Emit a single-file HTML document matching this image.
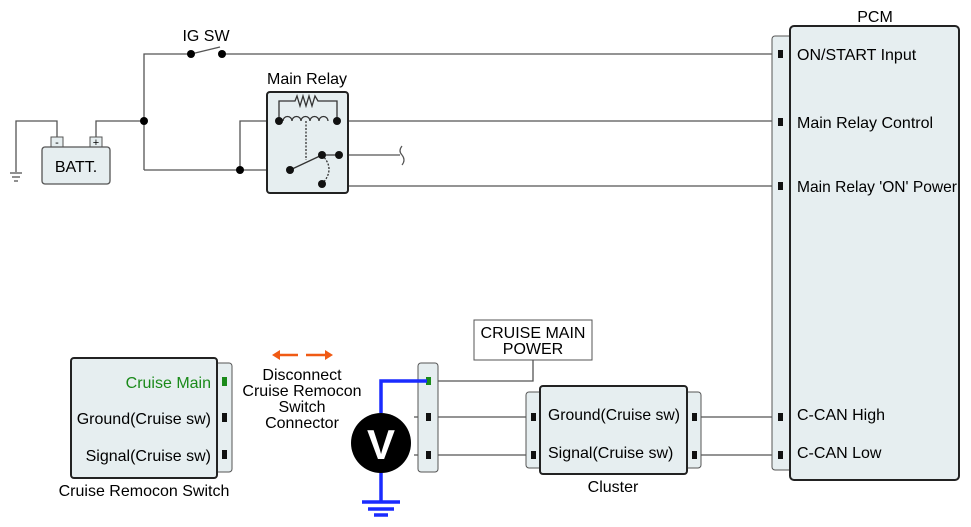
<!DOCTYPE html>
<html><head><meta charset="utf-8"><style>
html,body{margin:0;padding:0;background:#fff;}
svg{display:block;font-family:"Liberation Sans",Arial,sans-serif;}
</style></head><body>
<svg width="971" height="527" viewBox="0 0 971 527" xmlns="http://www.w3.org/2000/svg">
<g stroke="#555" stroke-width="1.3" fill="none">
<polyline points="144,170 144,54 191,54"/>
<line x1="191" y1="54" x2="220" y2="47"/>
<line x1="222" y1="54" x2="772" y2="54"/>
<polyline points="96,137 96,121 144,121"/>
<polyline points="57,137 57,121 16,121 16,172"/>
<line x1="10" y1="173" x2="22" y2="173"/>
<line x1="12" y1="177" x2="20" y2="177"/>
<line x1="14" y1="181" x2="18" y2="181"/>
<line x1="144" y1="170" x2="290" y2="170"/>
<polyline points="240,170 240,121 279,121"/>
<line x1="337" y1="121" x2="772" y2="121"/>
<line x1="339" y1="155" x2="400" y2="155"/>
<polyline points="339,155 339,186 772,186"/>
<line x1="414" y1="417" x2="526" y2="417"/>
<line x1="414" y1="455" x2="526" y2="455"/>
<line x1="701" y1="417" x2="772" y2="417"/>
<line x1="701" y1="455" x2="772" y2="455"/>
<polyline points="430,381 533,381 533,360"/>
</g>
<path d="M402,146 q-4,5 0,9 q4,5 0,10" stroke="#555" fill="none" stroke-width="1.2"/>
<rect x="51" y="137" width="12" height="11" fill="#e6eef0" stroke="#555"/>
<rect x="90" y="137" width="12" height="11" fill="#e6eef0" stroke="#555"/>
<text x="57" y="146" font-size="11" text-anchor="middle">-</text>
<text x="96" y="146" font-size="11" text-anchor="middle">+</text>
<rect x="42" y="147" width="68" height="37" rx="3" fill="#e6eef0" stroke="#555" stroke-width="1.3"/>
<text x="76" y="172" font-size="16" text-anchor="middle">BATT.</text>
<text x="206" y="41" font-size="16" text-anchor="middle">IG SW</text>
<circle cx="191" cy="54" r="4"/><circle cx="222" cy="54" r="4"/>
<circle cx="144" cy="121" r="4"/><circle cx="240" cy="170" r="4"/>
<text x="307" y="84" font-size="16" text-anchor="middle">Main Relay</text>
<rect x="267" y="92" width="81" height="101" rx="3" fill="#e6eef0" stroke="#222" stroke-width="2"/>
<g stroke="#333" stroke-width="1.3" fill="none">
<polyline points="279,121 279,101 295,101 297,96 300,106 303,96 306,106 309,96 312,106 315,96 318,101 337,101 337,121"/>
<path d="M283,121 a4.5,4.5 0 0 1 9,0 a4.5,4.5 0 0 1 9,0 a4.5,4.5 0 0 1 9,0 a4.5,4.5 0 0 1 9,0 a4.5,4.5 0 0 1 9,0"/>
<line x1="306" y1="121" x2="306" y2="160" stroke-dasharray="2,1.5"/>
<line x1="290" y1="170" x2="322" y2="155"/>
<path d="M322,155 q14,14 0,29" stroke-dasharray="2,1.5"/>
<line x1="322" y1="155" x2="339" y2="155"/>
</g>
<g fill="#111">
<circle cx="279" cy="121" r="4"/><circle cx="337" cy="121" r="4"/>
<circle cx="290" cy="170" r="4"/><circle cx="322" cy="155" r="4"/>
<circle cx="339" cy="155" r="4"/><circle cx="322" cy="184" r="4"/>
</g>
<text x="875" y="22" font-size="16" text-anchor="middle">PCM</text>
<rect x="772" y="36" width="20" height="434" rx="3" fill="#e6eef0" stroke="#555"/>
<rect x="790" y="26" width="169" height="454" rx="4" fill="#e6eef0" stroke="#222" stroke-width="2"/>
<g fill="#111">
<rect x="778" y="50" width="5" height="8"/><rect x="778" y="118" width="5" height="8"/>
<rect x="778" y="182" width="5" height="8"/><rect x="778" y="413" width="5" height="8"/>
<rect x="778" y="451" width="5" height="8"/>
</g>
<g font-size="16">
<text x="797" y="60">ON/START Input</text>
<text x="797" y="128">Main Relay Control</text>
<text x="797" y="192" textLength="160" lengthAdjust="spacingAndGlyphs">Main Relay 'ON' Power</text>
<text x="797" y="420">C-CAN High</text>
<text x="797" y="458">C-CAN Low</text>
</g>
<rect x="526" y="392" width="16" height="76" rx="3" fill="#e6eef0" stroke="#555"/>
<rect x="685" y="392" width="16" height="76" rx="3" fill="#e6eef0" stroke="#555"/>
<rect x="540" y="386" width="147" height="88" rx="3" fill="#e6eef0" stroke="#222" stroke-width="2"/>
<g fill="#111">
<rect x="531" y="413" width="5" height="8"/><rect x="531" y="451" width="5" height="8"/>
<rect x="692" y="413" width="5" height="8"/><rect x="692" y="451" width="5" height="8"/>
</g>
<text x="548" y="420" font-size="16" textLength="132" lengthAdjust="spacingAndGlyphs">Ground(Cruise sw)</text>
<text x="548" y="458" font-size="16">Signal(Cruise sw)</text>
<text x="613" y="492" font-size="16" text-anchor="middle">Cluster</text>
<rect x="474" y="320" width="118" height="40" fill="#fff" stroke="#555"/>
<text x="533" y="338" font-size="16" text-anchor="middle">CRUISE MAIN</text>
<text x="533" y="354" font-size="16" text-anchor="middle">POWER</text>
<rect x="418" y="363" width="20" height="109" rx="3" fill="#e6eef0" stroke="#555"/>
<rect x="426" y="377" width="5" height="8" fill="#1a8a1a"/>
<rect x="426" y="413" width="5" height="8" fill="#111"/>
<rect x="426" y="451" width="5" height="8" fill="#111"/>
<g stroke="#1a2bff" stroke-width="3.5" fill="none">
<polyline points="381,413 381,381 427,381"/>
<line x1="381" y1="470" x2="381" y2="502"/>
<line x1="362" y1="502" x2="400" y2="502"/>
<line x1="368" y1="509" x2="394" y2="509"/>
<line x1="374" y1="515" x2="388" y2="515"/>
</g>
<circle cx="381" cy="443" r="30" fill="#000"/>
<text x="381" y="459" font-size="42" font-weight="bold" fill="#fff" text-anchor="middle">V</text>
<g fill="#f05a14" stroke="#f05a14" stroke-width="2.5">
<line x1="278" y1="355" x2="298" y2="355"/>
<polygon points="272,355 280,350 280,360" stroke="none"/>
<line x1="306" y1="355" x2="326" y2="355"/>
<polygon points="333,355 325,350 325,360" stroke="none"/>
</g>
<g font-size="16" text-anchor="middle">
<text x="302" y="380">Disconnect</text>
<text x="302" y="396">Cruise Remocon</text>
<text x="302" y="412">Switch</text>
<text x="302" y="428">Connector</text>
</g>
<rect x="215" y="363" width="17" height="109" rx="3" fill="#e6eef0" stroke="#555"/>
<rect x="71" y="358" width="146" height="120" rx="3" fill="#e6eef0" stroke="#222" stroke-width="2"/>
<rect x="222" y="377" width="5" height="9" fill="#1a8a1a"/>
<rect x="222" y="413" width="5" height="9" fill="#111"/>
<rect x="222" y="450" width="5" height="9" fill="#111"/>
<g font-size="16" text-anchor="end">
<text x="211" y="388" fill="#1a8a1a">Cruise Main</text>
<text x="211" y="424">Ground(Cruise sw)</text>
<text x="211" y="461">Signal(Cruise sw)</text>
</g>
<text x="144" y="496" font-size="16" text-anchor="middle">Cruise Remocon Switch</text>
</svg>
</body></html>
